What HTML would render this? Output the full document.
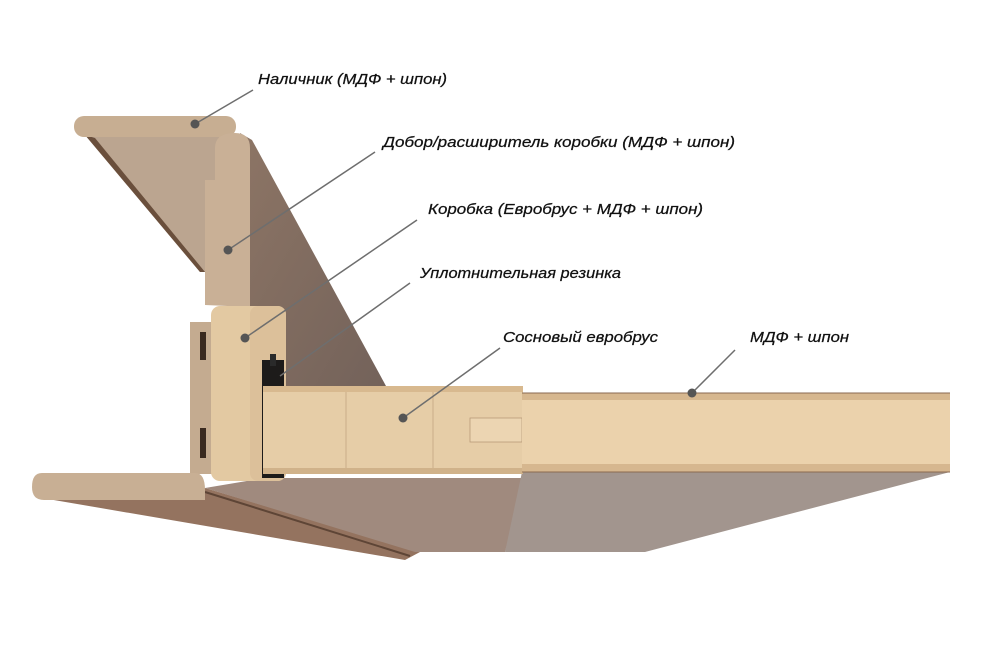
<!DOCTYPE html>
<html><head><meta charset="utf-8"><style>
html,body{margin:0;padding:0;background:#fff;}
svg{display:block}
text{font-family:"Liberation Sans","DejaVu Sans",sans-serif;font-style:italic;font-size:15px;fill:#111;stroke:#111;stroke-width:0.25}
</style></head><body>
<svg width="1000" height="650" viewBox="0 0 1000 650" xmlns="http://www.w3.org/2000/svg">
<defs>
<linearGradient id="side" x1="0" y1="0" x2="1" y2="1"><stop offset="0" stop-color="#8d7565"/><stop offset="1" stop-color="#73625a"/></linearGradient>
</defs>
<!-- top casing underside -->
<polygon points="85,135 225,135 225,150 205,272 200,272" fill="#bba590"/>
<polygon points="85,135 95,138 205,272 200,272" fill="#6a4f3c"/>
<!-- dobor side face -->
<polygon points="240,133 252,140 386,386 285,386 250,320" fill="url(#side)"/>
<!-- top casing section -->
<rect x="74" y="116" width="162" height="21" rx="10" fill="#c7ae92"/>
<rect x="219" y="128" width="8" height="48" fill="#c7ae92"/>
<!-- dobor section -->
<path d="M205,305 L205,180 L215,180 L215,148 Q215,133 235,133 Q250,133 250,148 L250,307 Z" fill="#c9b096"/>
<!-- lower casing underside -->
<polygon points="42,498 205,488 420,552 405,560" fill="#94735f"/>
<polygon points="205,488 265,478 525,478 505,552 415,552" fill="#a08a7e"/>
<line x1="205" y1="492" x2="410" y2="556" stroke="#5e4536" stroke-width="2"/>
<!-- door leaf underside -->
<polygon points="522,472 950,472 645,552 505,552" fill="#a2958e"/>
<!-- mdf left of box -->
<rect x="190" y="322" width="22" height="152" fill="#c4ab90"/>
<rect x="200" y="332" width="6" height="28" fill="#3a2a20"/>
<rect x="200" y="428" width="6" height="30" fill="#3a2a20"/>
<!-- lower casing section -->
<path d="M42,473 L195,473 Q205,473 205,490 L205,500 L44,500 Q32,500 32,487 Q32,473 42,473 Z" fill="#c8af94"/>
<!-- box euro-bar -->
<rect x="211" y="306" width="75" height="175" rx="9" fill="#e3c9a2"/>
<rect x="250" y="306" width="36" height="175" rx="8" fill="#dcc09a"/>
<!-- seal -->
<rect x="262" y="360" width="22" height="118" fill="#1d1b1a"/>
<rect x="270" y="354" width="6" height="12" fill="#2a2a2a"/>
<!-- door euro bar -->
<rect x="263" y="386" width="260" height="88" fill="#e6cda7"/>
<rect x="263" y="386" width="260" height="6" fill="#d8b98f"/>
<rect x="263" y="468" width="260" height="6" fill="#d0b28a"/>
<line x1="346" y1="392" x2="346" y2="468" stroke="#c9ad88"/>
<line x1="433" y1="392" x2="433" y2="468" stroke="#c9ad88"/>
<rect x="470" y="418" width="52" height="24" fill="#ecd5b2" stroke="#b89a78" stroke-width="0.8"/>
<!-- door mdf -->
<rect x="522" y="393" width="428" height="79" fill="#ebd2ac"/>
<rect x="522" y="393" width="428" height="7" fill="#d6b78f"/>
<rect x="522" y="464" width="428" height="8" fill="#d6b78f"/>
<line x1="522" y1="393" x2="950" y2="393" stroke="#8a6a50"/>
<line x1="522" y1="472" x2="950" y2="472" stroke="#8a6a50"/>
<!-- leaders -->
<g stroke="#6e6e6e" stroke-width="1.5" fill="#555">
<line x1="195" y1="124" x2="253" y2="90"/><circle cx="195" cy="124" r="4.5" stroke="none"/>
<line x1="228" y1="250" x2="375" y2="152"/><circle cx="228" cy="250" r="4.5" stroke="none"/>
<line x1="245" y1="338" x2="417" y2="220"/><circle cx="245" cy="338" r="4.5" stroke="none"/>
<line x1="280" y1="376" x2="410" y2="283"/>
<line x1="403" y1="418" x2="500" y2="348"/><circle cx="403" cy="418" r="4.5" stroke="none"/>
<line x1="692" y1="393" x2="735" y2="350"/><circle cx="692" cy="393" r="4.5" stroke="none"/>
</g>
<text x="258" y="84" textLength="189" lengthAdjust="spacingAndGlyphs">Наличник (МДФ + шпон)</text>
<text x="383" y="147" textLength="352" lengthAdjust="spacingAndGlyphs">Добор/расширитель коробки (МДФ + шпон)</text>
<text x="428" y="214" textLength="275" lengthAdjust="spacingAndGlyphs">Коробка (Евробрус + МДФ + шпон)</text>
<text x="420" y="278" textLength="201" lengthAdjust="spacingAndGlyphs">Уплотнительная резинка</text>
<text x="503" y="342" textLength="155" lengthAdjust="spacingAndGlyphs">Сосновый евробрус</text>
<text x="750" y="342" textLength="99" lengthAdjust="spacingAndGlyphs">МДФ + шпон</text>
</svg>
</body></html>
